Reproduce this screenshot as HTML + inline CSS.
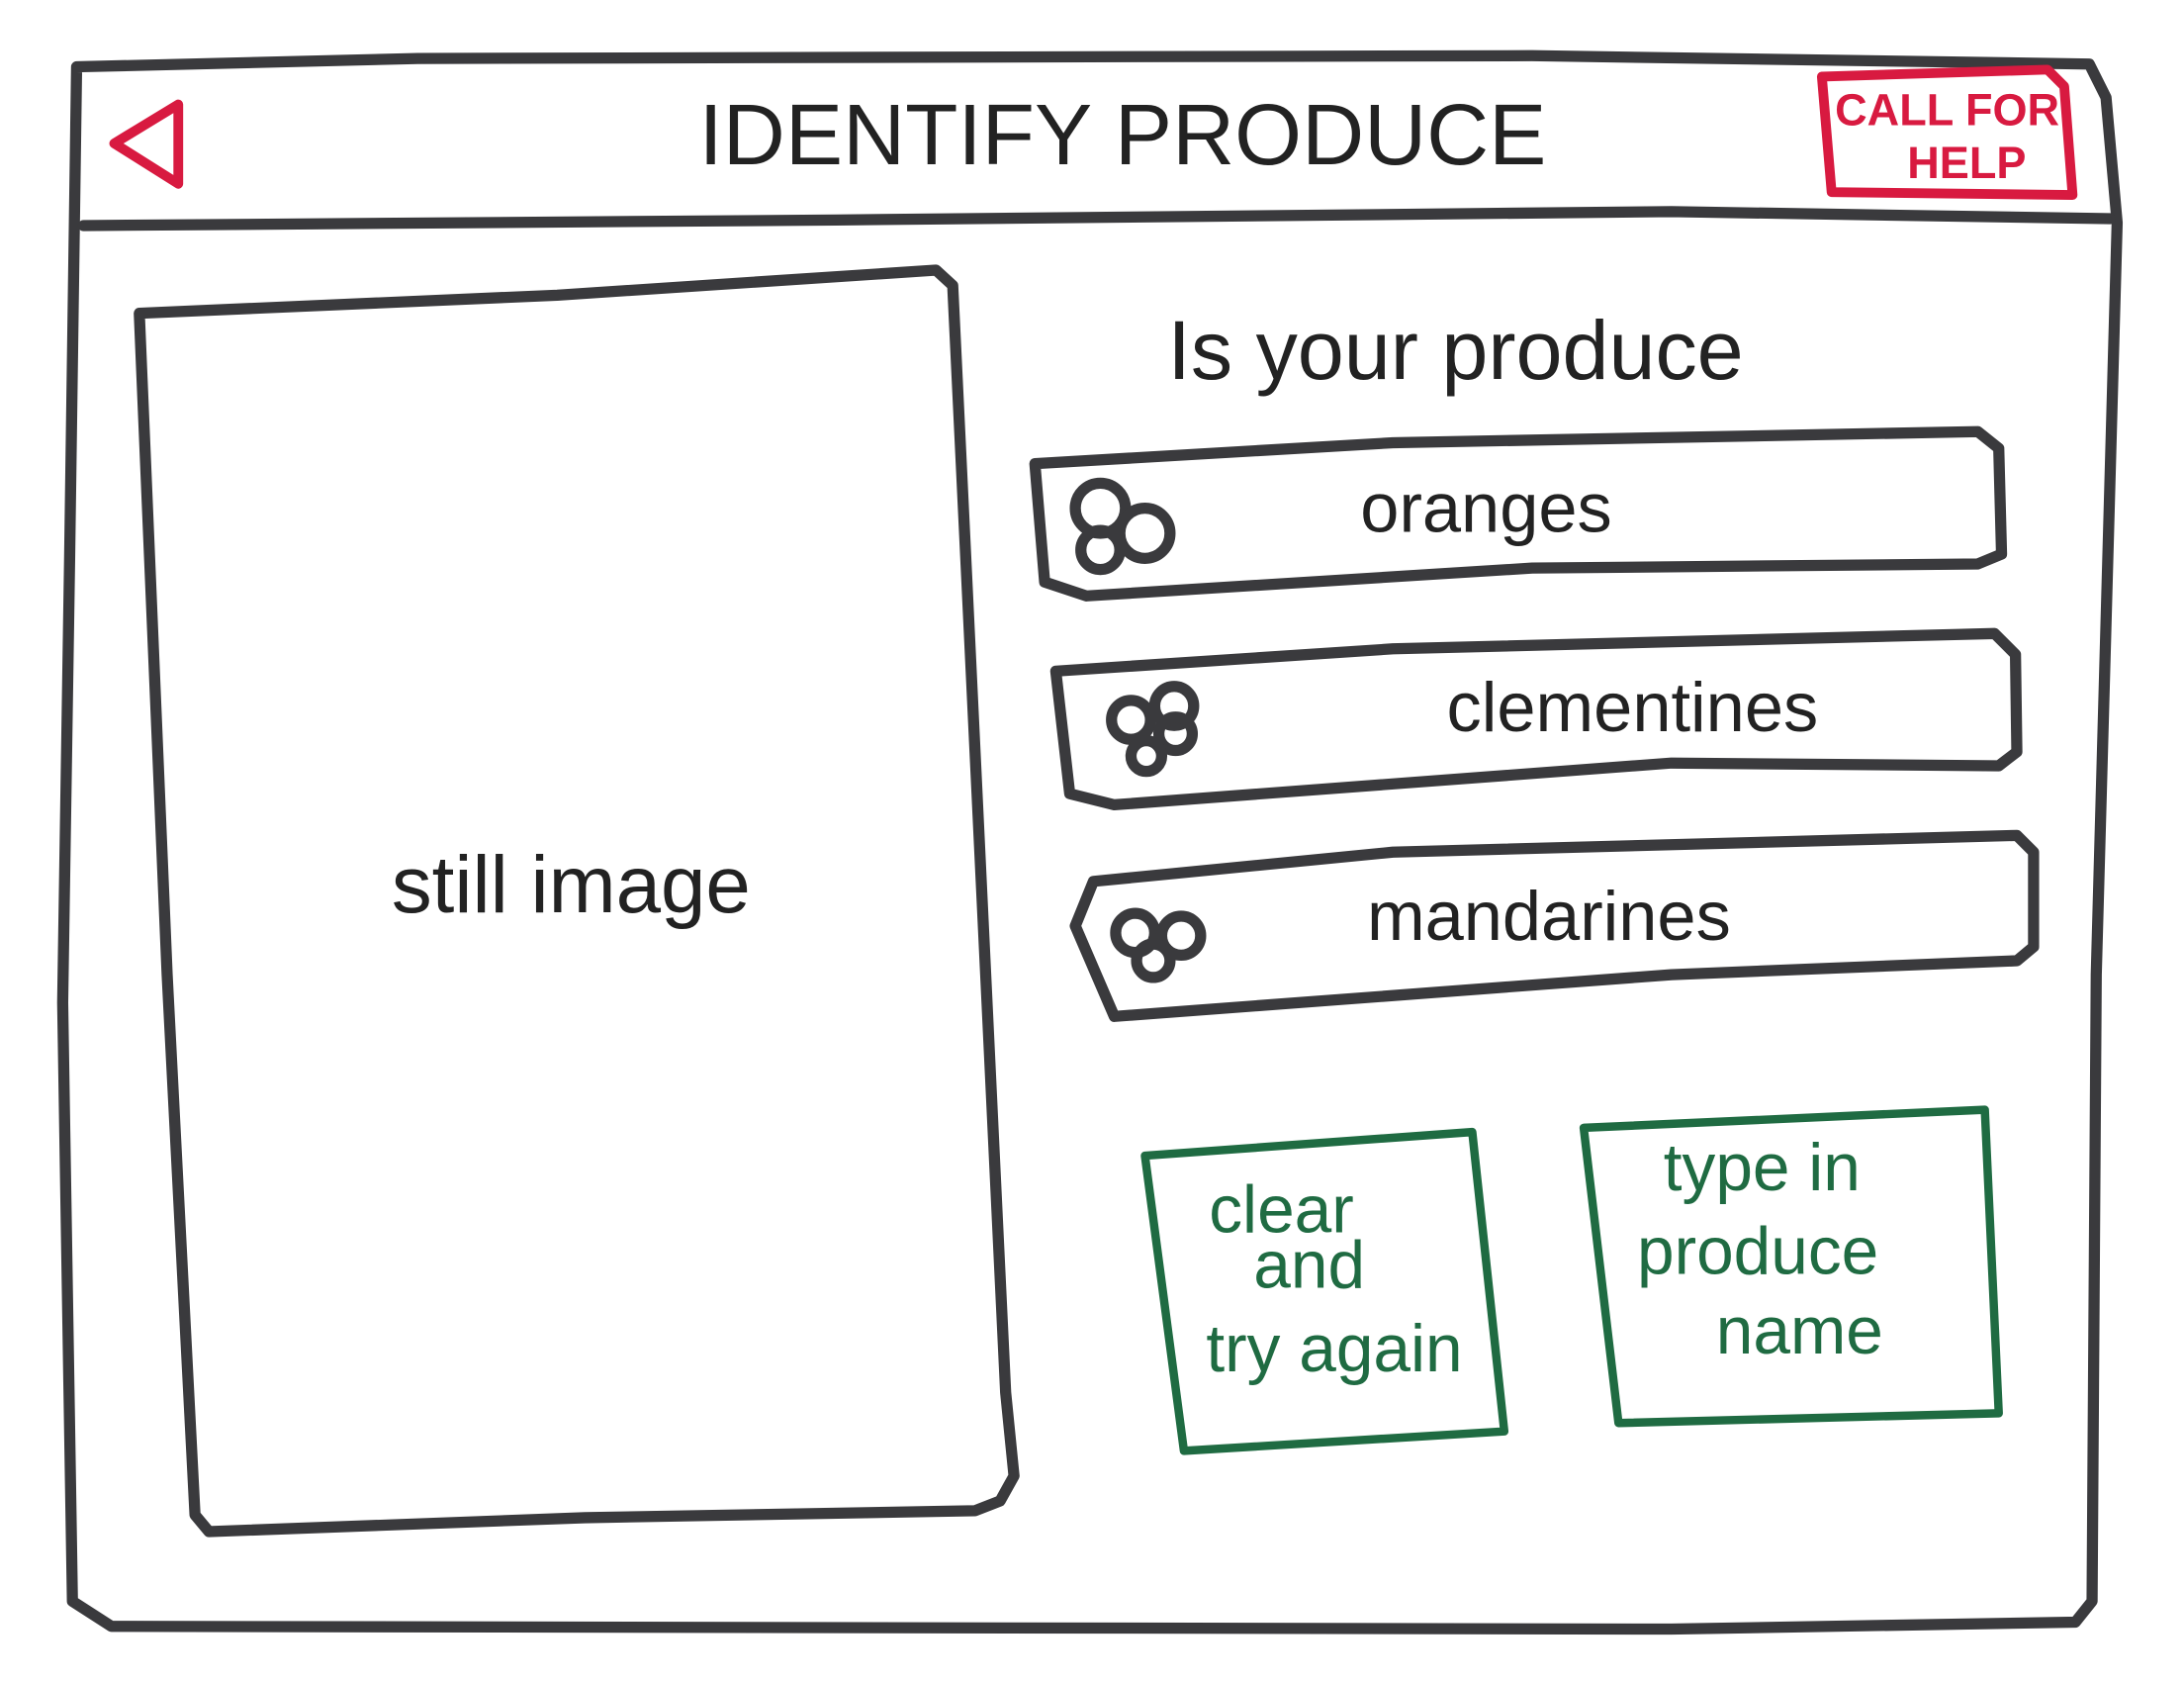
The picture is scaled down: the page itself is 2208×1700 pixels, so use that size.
<!DOCTYPE html>
<html><head><meta charset="utf-8">
<style>
html,body{margin:0;padding:0;background:#fff;}
svg{display:block;}
text{font-family:"Liberation Sans",sans-serif;}
</style></head>
<body>
<svg width="2208" height="1700" viewBox="0 0 1568 1208" preserveAspectRatio="none" xmlns="http://www.w3.org/2000/svg">
<rect width="1568" height="1208" fill="#fff"/>
<g fill="none" stroke="#3a3a3d" stroke-width="8" stroke-linejoin="round" stroke-linecap="round">
  <!-- outer frame -->
  <path d="M55,48 L300,42 L1100,40 L1500,46 L1512,70 L1520,160 L1505,700 L1502,1150 L1490,1165 L1200,1170 L80,1168 L52,1150 L45,720 L50,400 Z"/>
  <!-- header line -->
  <path d="M60,162 L600,158 L1200,152 L1515,157"/>
  <!-- still image box -->
  <path d="M100,225 L400,212 L672,194 L684,205 L690,330 L722,1000 L728,1060 L718,1078 L700,1085 L420,1090 L150,1100 L140,1088 L120,700 L100,225 Z"/>
  <!-- option boxes -->
  <path d="M743,333 L1000,318 L1420,310 L1435,322 L1437,398 L1420,405 L1100,408 L780,428 L750,418 Z"/>
  <path d="M758,482 L1000,466 L1432,455 L1447,470 L1448,540 L1435,550 L1200,548 L800,578 L768,570 Z"/>
  <path d="M785,633 L1000,612 L1448,600 L1460,612 L1460,680 L1448,690 L1200,700 L800,730 L772,665 Z"/>
  <!-- icons -->
  <circle cx="790" cy="365" r="18"/><circle cx="822" cy="383" r="18"/><circle cx="790" cy="395" r="14"/>
  <circle cx="812" cy="517" r="14"/><circle cx="843" cy="507" r="14"/><circle cx="844" cy="527" r="12"/><circle cx="823" cy="543" r="11"/>
  <circle cx="815" cy="670" r="14"/><circle cx="848" cy="672" r="14"/><circle cx="828" cy="690" r="12"/>
</g>
<!-- red elements -->
<g fill="none" stroke="#d81a40" stroke-width="7" stroke-linejoin="round">
  <path d="M128,75 L82,103 L128,132 Z"/>
  <path d="M1308,55 L1470,50 L1482,62 L1488,140 L1315,138 Z"/>
</g>
<text x="1398" y="90" font-size="32" font-weight="bold" fill="#d81a40" text-anchor="middle">CALL FOR</text>
<text x="1412" y="128" font-size="32" font-weight="bold" fill="#d81a40" text-anchor="middle">HELP</text>
<!-- green boxes -->
<g fill="none" stroke="#1f6b42" stroke-width="6" stroke-linejoin="round">
  <path d="M822,830 L1057,813 L1080,1028 L850,1042 Z"/>
  <path d="M1137,810 L1425,797 L1435,1015 L1162,1022 Z"/>
</g>
<g fill="#1f6b42" font-size="48" text-anchor="middle">
  <text x="920" y="885">clear</text>
  <text x="940" y="925">and</text>
  <text x="958" y="985">try again</text>
  <text x="1265" y="855">type in</text>
  <text x="1262" y="915">produce</text>
  <text x="1292" y="972">name</text>
</g>
<!-- dark text -->
<g fill="#222" text-anchor="middle">
  <text x="806" y="118" font-size="62">IDENTIFY PRODUCE</text>
  <text x="410" y="655" font-size="58">still image</text>
  <text x="1045" y="272" font-size="60">Is your produce</text>
  <text x="1067" y="382" font-size="50">oranges</text>
  <text x="1172" y="525" font-size="50">clementines</text>
  <text x="1112" y="675" font-size="50">mandarines</text>
</g>
</svg>
</body></html>
